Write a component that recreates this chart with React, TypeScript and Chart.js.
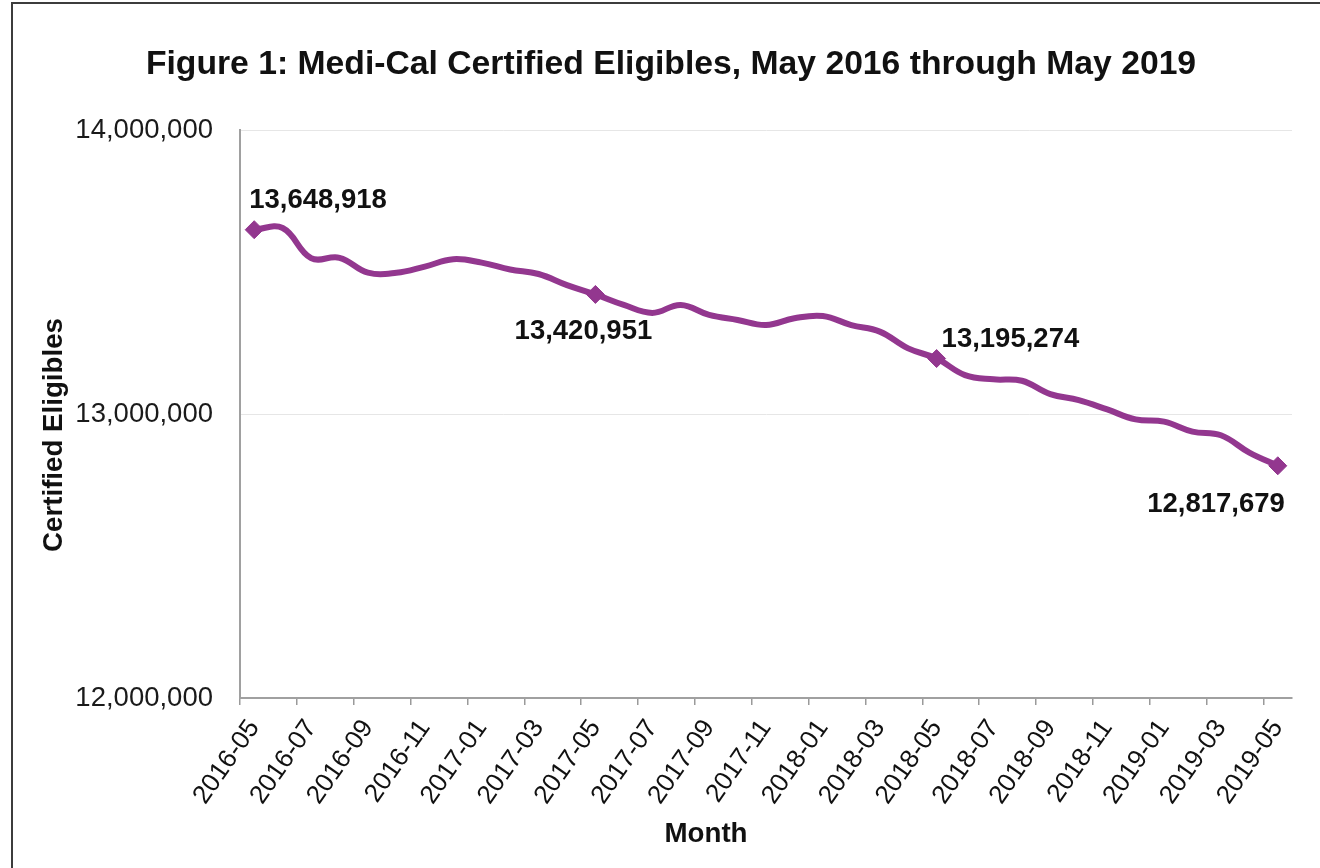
import React, { useEffect, useRef } from "react";
import { Chart, registerables } from "chart.js";

Chart.register(...registerables);

const months: string[] = [
  "2016-05", "2016-06", "2016-07", "2016-08", "2016-09", "2016-10", "2016-11", "2016-12",
  "2017-01", "2017-02", "2017-03", "2017-04", "2017-05", "2017-06", "2017-07", "2017-08",
  "2017-09", "2017-10", "2017-11", "2017-12", "2018-01", "2018-02", "2018-03", "2018-04",
  "2018-05", "2018-06", "2018-07", "2018-08", "2018-09", "2018-10", "2018-11", "2018-12",
  "2019-01", "2019-02", "2019-03", "2019-04", "2019-05",
];

const eligibles: number[] = [
  13648918, 13655000, 13549000, 13550000, 13498000, 13497000, 13519000, 13545000,
  13533000, 13509000, 13493000, 13454000, 13420951, 13384000, 13356000, 13384000,
  13349000, 13331000, 13313000, 13337000, 13345000, 13313000, 13290000, 13231000,
  13195274, 13137000, 13122000, 13117000, 13070000, 13049000, 13016000, 12981000,
  12973000, 12938000, 12925000, 12864000, 12817679,
];

const labeledIndices: number[] = [0, 12, 24, 36];
const yTicks: number[] = [12000000, 13000000, 14000000];

const titleText = "Figure 1: Medi-Cal Certified Eligibles, May 2016 through May 2019";
const yTitle = "Certified Eligibles";
const xTitle = "Month";

const FONT = "'Liberation Sans', Arial, Helvetica, sans-serif";
const PURPLE = "#93378F";

// label placement relative to the point: dx, dy (baseline), alignment
const labelPlacement: { dx: number; dy: number; align: CanvasTextAlign }[] = [
  { dx: -5, dy: -22, align: "left" },
  { dx: -12, dy: 45, align: "center" },
  { dx: 5, dy: -12, align: "left" },
  { dx: 7, dy: 46, align: "right" },
];

const fmt = (v: number) => v.toLocaleString("en-US");

export default function App() {
  const ref = useRef<HTMLCanvasElement | null>(null);

  useEffect(() => {
    if (!ref.current) return;

    const overlay = {
      id: "overlayText",
      afterDatasetsDraw(chart: any) {
        const ctx = chart.ctx as CanvasRenderingContext2D;
        const meta = chart.getDatasetMeta(0);
        ctx.save();
        ctx.fillStyle = "#111";
        ctx.font = `bold 27.5px ${FONT}`;
        ctx.textBaseline = "alphabetic";
        labeledIndices.forEach((idx, k) => {
          const p = meta.data[idx];
          const pl = labelPlacement[k];
          ctx.textAlign = pl.align;
          ctx.fillText(fmt(eligibles[idx]), p.x + pl.dx, p.y + pl.dy);
        });
        // chart title
        ctx.textAlign = "center";
        ctx.font = `bold 33.7px ${FONT}`;
        ctx.fillText(titleText, 671, 74);
        // x axis title
        ctx.font = `bold 27.7px ${FONT}`;
        ctx.fillText(xTitle, 706, 842);
        // y axis title
        ctx.save();
        ctx.translate(62, 435);
        ctx.rotate(-Math.PI / 2);
        ctx.textAlign = "center";
        ctx.fillText(yTitle, 0, 0);
        ctx.restore();
        ctx.restore();
      },
    };

    const chart = new Chart(ref.current, {
      type: "line",
      data: {
        labels: months,
        datasets: [
          {
            data: eligibles,
            borderColor: PURPLE,
            backgroundColor: PURPLE,
            borderWidth: 6,
            tension: 0.4,
            pointStyle: "rectRot",
            pointRadius: months.map((_, i) => (labeledIndices.includes(i) ? 9 : 0)),
            pointHoverRadius: 0,
            pointBorderWidth: 1,
            pointBackgroundColor: PURPLE,
            pointBorderColor: PURPLE,
            fill: false,
          },
        ],
      },
      options: {
        animation: false,
        responsive: false,
        events: [],
        layout: { padding: { top: 130, left: 0, right: 28, bottom: 0 } },
        plugins: {
          legend: { display: false },
          title: { display: false },
          tooltip: { enabled: false },
        },
        scales: {
          x: {
            type: "category",
            offset: true,
            grid: {
              offset: true,
              drawOnChartArea: false,
              drawTicks: true,
              tickLength: 7,
              color: (c: any) =>
                c.index % 2 === 0 && c.index < months.length ? "#9a9a9a" : "rgba(0,0,0,0)",
              lineWidth: 1.5,
            },
            border: { display: true, color: "#a0a0a0", width: 2 },
            ticks: {
              autoSkip: false,
              minRotation: 55,
              maxRotation: 55,
              padding: 9,
              color: "#111",
              font: { family: FONT, size: 26 },
              callback: (_v: any, i: number) => (i % 2 === 0 ? months[i] : ""),
            },
            afterFit: (s: any) => {
              s.height = 170;
            },
          },
          y: {
            min: 12000000,
            max: 14000000,
            afterBuildTicks: (s: any) => {
              s.ticks = yTicks.map((v) => ({ value: v }));
            },
            grid: { color: "#e6e6e6", lineWidth: 1, drawTicks: false },
            border: { display: true, color: "#a0a0a0", width: 2 },
            ticks: {
              padding: 27,
              color: "#1a1a1a",
              font: { family: FONT, size: 27.5 },
              callback: (v: any) => fmt(Number(v)),
            },
            title: { display: false },
            afterFit: (s: any) => {
              s.width = 240;
            },
          },
        },
      },
      plugins: [overlay],
    } as any);

    return () => chart.destroy();
  }, []);

  return (
    <div style={{ position: "fixed", left: 0, top: 0, width: 1320, height: 868, background: "#fff", overflow: "hidden" }}>
      <div
        style={{
          position: "absolute",
          left: 11,
          top: 2,
          width: 1330,
          height: 900,
          borderLeft: "2px solid #3c3c3c",
          borderTop: "2px solid #3c3c3c",
        }}
      />
      <canvas ref={ref} width={1320} height={868} style={{ position: "absolute", left: 0, top: 0, width: 1320, height: 868 }} />
    </div>
  );
}
